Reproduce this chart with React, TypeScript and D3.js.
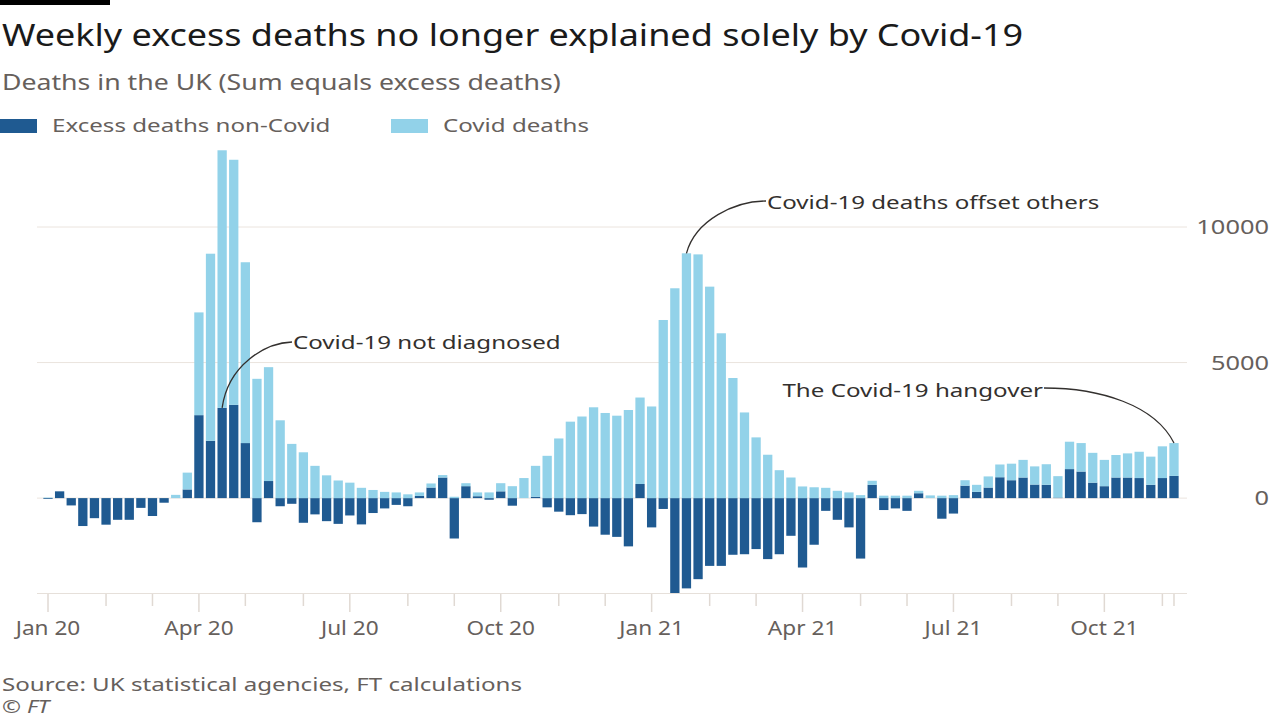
import React from 'react';
import * as d3 from 'd3';

const W = 1280;
const H = 720;

// weekly figures, week ending Friday 3 Jan 2020 .. 12 Nov 2021
const nonCovid = [
  -30, 250, -270, -1030, -740, -980, -800, -800, -360, -660, -170, 0, 320, 3060, 2115, 3330,
  3440, 2030, -890, 630, -300, -210, -910, -600, -850, -950, -640, -970, -550, -380, -250, -300,
  80, 390, 760, -1490, 440, 70, -60, 250, -280, 0, 50, -340, -500, -630, -590, -1050,
  -1350, -1430, -1780, 520, -1080, -400, -3500, -3330, -2990, -2500, -2500, -2090, -2070, -1880, -2250, -2070,
  -1390, -2560, -1720, -470, -800, -1080, -2230, 490, -440, -380, -470, 180, 0, -760, -570, 460,
  230, 390, 770, 660, 760, 500, 490, 20, 1070, 980, 570, 440, 760, 760, 740, 490,
  740, 820,
];

const covid = [
  20, 0, 0, 0, 0, 0, 0, 0, 0, 0, 0, 120, 620, 3790, 6900, 9500,
  9040, 6670, 4400, 4200, 2870, 2000, 1690, 1190, 840, 650, 570, 380, 300, 230, 210, 140,
  130, 150, 90, 50, 110, 140, 210, 300, 440, 740, 1140, 1560, 2200, 2820, 3010, 3350,
  3140, 3040, 3250, 3190, 3380, 6570, 7740, 9030, 8990, 7800, 6080, 4430, 3160, 2240, 1600, 1030,
  760, 430, 400, 380, 270, 210, 110, 150, 90, 90, 90, 90, 100, 90, 110, 200,
  260, 410, 470, 610, 650, 670, 760, 790, 1010, 1050, 1100, 970, 830, 890, 970, 1040,
  1170, 1210,
];

const weeks = d3.timeFriday.range(new Date(2020, 0, 3), new Date(2021, 10, 13));

const yTicks = [0, 5000, 10000];

const seriesNames = ['Excess deaths non-Covid', 'Covid deaths'];
const seriesColors = ['#1f5a91', '#92d2e9'];

const annotations = [
  { text: 'Covid-19 not diagnosed', week: 15, series: 0 },
  { text: 'Covid-19 deaths offset others', week: 55, series: 1 },
  { text: 'The Covid-19 hangover', week: 97, series: 1 },
];

const FONT = "'Noto Sans', sans-serif";
const GREY = '#66605c';
const INK = '#33302e';
const STRETCH = 1.27; // the reference's type is set wide

type TProps = {
  x: number;
  y: number;
  sx?: number;
  size: number;
  fill: string;
  anchor?: 'start' | 'middle' | 'end';
  italic?: boolean;
  children: React.ReactNode;
};

const T = ({ x, y, sx = STRETCH, size, fill, anchor = 'start', italic, children }: TProps) => (
  <text
    transform={`translate(${x},${y}) scale(${sx},1)`}
    fontFamily={FONT}
    fontSize={size}
    fill={fill}
    textAnchor={anchor}
    fontStyle={italic ? 'italic' : undefined}
  >
    {children}
  </text>
);

export default function App() {
  const x = d3
    .scaleBand<number>()
    .domain(d3.range(weeks.length))
    .range([42.2, 1179.8])
    .paddingInner(0.2)
    .paddingOuter(0.1);
  const y = d3.scaleLinear().domain([-3500, 10000]).range([593, 227]);
  const bw = x.bandwidth();
  const cx = (i: number) => (x(i) ?? 0) + bw / 2;

  // month ticks at the first week of each month
  const ticks: { i: number; major: boolean; label: string }[] = [];
  weeks.forEach((d, i) => {
    if (i === 0 || d.getMonth() !== weeks[i - 1].getMonth()) {
      const major = d.getMonth() % 3 === 0;
      ticks.push({ i, major, label: major ? d3.timeFormat('%b %y')(d) : '' });
    }
  });
  ticks.push({ i: weeks.length - 1, major: false, label: '' });

  const top = (i: number, s: number) =>
    s === 0 ? y(nonCovid[i]) : y(Math.max(nonCovid[i], 0) + covid[i]);

  const a0 = { x: cx(annotations[0].week), y: top(annotations[0].week, 0) };
  const a1 = { x: cx(annotations[1].week), y: top(annotations[1].week, 1) };
  const a2 = { x: cx(annotations[2].week), y: top(annotations[2].week, 1) };

  return (
    <svg width={W} height={H} style={{ position: 'absolute', left: 0, top: 0, background: '#fff' }}>
      <rect x={0} y={0} width={110} height={5} fill="#000" />
      <T x={2} y={46} size={30} sx={1.2} fill="#1a1a1a">
        Weekly excess deaths no longer explained solely by Covid-19
      </T>
      <T x={2} y={90} size={21} fill={GREY}>
        Deaths in the UK (Sum equals excess deaths)
      </T>

      {/* legend */}
      <rect x={0} y={119} width={37} height={14} fill={seriesColors[0]} />
      <T x={52} y={132} size={19} fill={GREY}>
        {seriesNames[0]}
      </T>
      <rect x={391} y={119} width={37} height={14} fill={seriesColors[1]} />
      <T x={443} y={132} size={19} fill={GREY}>
        {seriesNames[1]}
      </T>

      {/* grid */}
      {yTicks.map((t) => (
        <g key={t}>
          <line x1={37} x2={1187} y1={y(t)} y2={y(t)} stroke="#ebe4de" strokeWidth={1} />
          <T x={1269} y={y(t) + 7} size={20} fill={GREY} anchor="end">
            {t}
          </T>
        </g>
      ))}

      {/* bars */}
      {weeks.map((_, i) => {
        const nc = nonCovid[i];
        const base = Math.max(nc, 0);
        return (
          <g key={i}>
            <rect
              x={x(i)}
              y={Math.min(y(nc), y(0))}
              width={bw}
              height={Math.abs(y(nc) - y(0))}
              fill={seriesColors[0]}
            />
            <rect
              x={x(i)}
              y={y(base + covid[i])}
              width={bw}
              height={y(base) - y(base + covid[i])}
              fill={seriesColors[1]}
            />
          </g>
        );
      })}

      {/* x axis */}
      <line x1={37} x2={1187} y1={593.5} y2={593.5} stroke="#e6e0da" strokeWidth={1} />
      {ticks.map((t, k) => (
        <g key={k}>
          <line
            x1={cx(t.i)}
            x2={cx(t.i)}
            y1={594}
            y2={t.major ? 612 : 606}
            stroke="#e0d9d3"
            strokeWidth={1.5}
          />
          {t.label && (
            <T x={cx(t.i)} y={635} size={19} sx={1.19} fill={GREY} anchor="middle">
              {t.label}
            </T>
          )}
        </g>
      ))}

      {/* annotations */}
      <g fill="none" stroke={INK} strokeWidth={1.3}>
        <path d={`M292,342 C265,343 ${a0.x + 6},365 ${a0.x},${a0.y}`} />
        <path d={`M766,201 C735,201 ${a1.x + 9},220 ${a1.x},${a1.y}`} />
        <path d={`M1044,388 C1100,388 ${a2.x - 19},405 ${a2.x},${a2.y}`} />
      </g>
      <T x={293} y={349} size={19} fill={INK}>
        {annotations[0].text}
      </T>
      <T x={767} y={209} size={19} fill={INK}>
        {annotations[1].text}
      </T>
      <T x={1043} y={397} size={19} fill={INK} anchor="end">
        {annotations[2].text}
      </T>

      <T x={2} y={691} size={19} fill={GREY}>
        Source: UK statistical agencies, FT calculations
      </T>
      <T x={2} y={713} size={18} fill={GREY} italic>
        © FT
      </T>
    </svg>
  );
}
